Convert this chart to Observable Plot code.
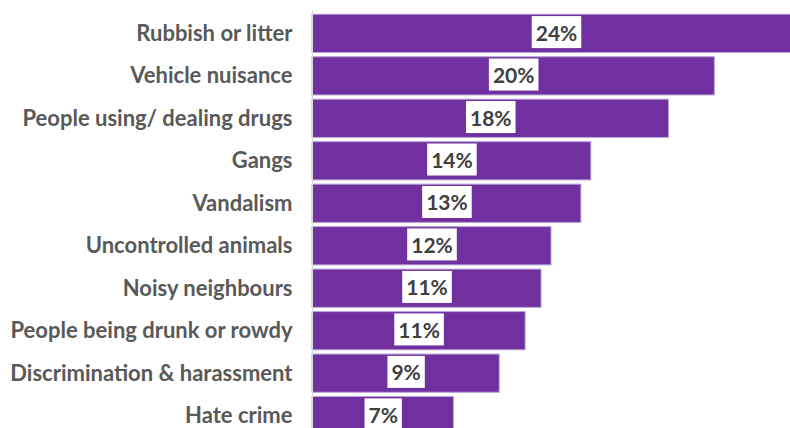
<!DOCTYPE html>
<html>
<head>
<meta charset="utf-8">
<script src="https://cdn.jsdelivr.net/npm/d3@7"></script>
<script src="https://cdn.jsdelivr.net/npm/@observablehq/plot@0.6"></script>
<style>
  html, body { margin: 0; padding: 0; background: #fff; overflow: hidden; }
  #chart svg { display: block; overflow: hidden; }
</style>
</head>
<body>
<div id="chart"></div>
<script>
const categories = [
  "Rubbish or litter",
  "Vehicle nuisance",
  "People using/ dealing drugs",
  "Gangs",
  "Vandalism",
  "Uncontrolled animals",
  "Noisy neighbours",
  "People being drunk or rowdy",
  "Discrimination & harassment",
  "Hate crime"
];
const values = [24.5, 20.2, 17.9, 14.0, 13.5, 12.0, 11.5, 10.7, 9.4, 7.1];
const valueLabels = ["24%", "20%", "18%", "14%", "13%", "12%", "11%", "11%", "9%", "7%"];

const data = categories.map((c, i) => ({category: c, value: values[i], label: valueLabels[i]}));

const chart = Plot.plot({
  width: 790,
  height: 439,
  marginLeft: 312,
  marginRight: 0,
  marginTop: 10,
  marginBottom: 0,
  style: {fontFamily: "Lato, 'Open Sans', sans-serif", fontSize: "22px", fontWeight: "bold", color: "#595959", background: "white"},
  x: {domain: [0, 24], axis: null},
  y: {domain: categories, padding: 0.1, round: false, label: null, tickSize: 0, tickPadding: 20},
  marks: [
    Plot.barX(data, {x: "value", y: "category", fill: "#7030A0", stroke: "#b9a3d4", strokeWidth: 1}),
    Plot.ruleX([0], {stroke: "#d9d9d9"}),
    Plot.text(data, {x: d => d.value / 2, y: "category", text: "label", fill: "#404040", fontSize: 21, fontWeight: "bold", className: "vlabel"})
  ]
});
document.getElementById("chart").appendChild(chart);

// white boxes behind the value labels, sized from the rendered text
document.querySelectorAll("g.vlabel text").forEach(t => {
  const b = t.getBBox();
  const ns = "http://www.w3.org/2000/svg";
  const r = document.createElementNS(ns, "rect");
  const padX = 4, h = 32;
  r.setAttribute("x", b.x - padX);
  r.setAttribute("y", b.y + b.height / 2 - h / 2);
  r.setAttribute("width", b.width + 2 * padX);
  r.setAttribute("height", h);
  r.setAttribute("fill", "white");
  const tr = t.getAttribute("transform");
  if (tr) r.setAttribute("transform", tr);
  t.parentNode.insertBefore(r, t);
});
</script>
</body>
</html>
